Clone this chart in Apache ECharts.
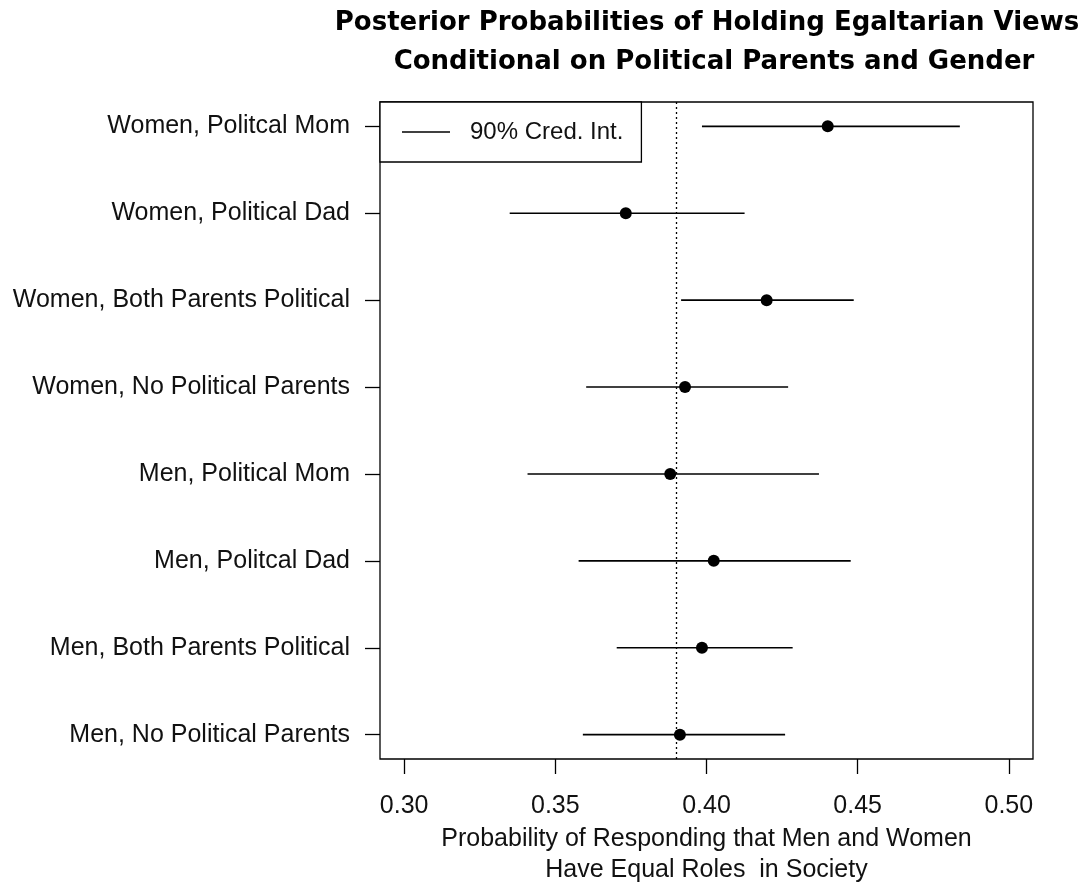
<!DOCTYPE html>
<html>
<head>
<meta charset="utf-8">
<script src="https://cdn.jsdelivr.net/npm/echarts@6/dist/echarts.min.js"></script>
<style>
html,body{margin:0;padding:0;background:#fff;}
#chart{width:1080px;height:886px;}
</style>
</head>
<body>
<div id="chart"></div>
<script>
// Categories listed top to bottom
const categories = [
  "Women, Politcal Mom",
  "Women, Political Dad",
  "Women, Both Parents Political",
  "Women, No Political Parents",
  "Men, Political Mom",
  "Men, Politcal Dad",
  "Men, Both Parents Political",
  "Men, No Political Parents"
];
const lower  = [0.3985, 0.3349, 0.3916, 0.3602, 0.3408, 0.3577, 0.3703, 0.3591];
const median = [0.4401, 0.3733, 0.4199, 0.3929, 0.3880, 0.4024, 0.3985, 0.3912];
const upper  = [0.4838, 0.4126, 0.4487, 0.4270, 0.4372, 0.4477, 0.4285, 0.4260];
const refLine = 0.3912;
const xTicks = [0.30, 0.35, 0.40, 0.45, 0.50];
const legendLabel = "90% Cred. Int.";
const titleLine1 = "Posterior Probabilities of Holding Egaltarian Views";
const titleLine2 = "Conditional on Political Parents and Gender";
const xName = "Probability of Responding that Men and Women\nHave Equal Roles  in Society";

const n = categories.length;
const yPos = categories.map((c, i) => n - i);
const intervalData = categories.map((c, i) => [lower[i], upper[i], yPos[i]]);
const pointData = categories.map((c, i) => [median[i], yPos[i]]);

const FONT = "'Liberation Sans', Arial, sans-serif";
const TFONT = "'DejaVu Sans', 'Liberation Sans', sans-serif";
const chart = echarts.init(document.getElementById('chart'), null, {renderer: 'canvas'});
chart.setOption({
  animation: false,
  backgroundColor: '#fff',
  textStyle: {fontFamily: FONT},
  title: [
    {text: titleLine1, left: 702, top: 5, textAlign: 'center',
     textStyle: {fontFamily: TFONT, fontWeight: 'bold', fontSize: 26, color: '#000'}},
    {text: titleLine2, left: 709, top: 44, textAlign: 'center',
     textStyle: {fontFamily: TFONT, fontWeight: 'bold', fontSize: 26, color: '#000'}}
  ],
  legend: {
    data: [{name: legendLabel, icon: 'rect'}],
    left: 380, top: 102,
    orient: 'vertical',
    itemWidth: 48, itemHeight: 1.5,
    padding: [18, 18, 18, 22],
    backgroundColor: '#fff',
    borderColor: '#000', borderWidth: 1.3, borderRadius: 0,
    selectedMode: false,
    itemStyle: {color: '#000'},
    textStyle: {fontFamily: FONT, fontSize: 24, color: '#111', padding: [0, 0, 0, 15]}
  },
  grid: {
    left: 380, right: 47, top: 102, bottom: 127,
    show: true, borderColor: '#000', borderWidth: 1.3, backgroundColor: 'transparent',
    containLabel: false,
    outerBoundsMode: 'none'
  },
  xAxis: {
    type: 'value', min: 0.292, max: 0.508,
    name: xName, nameLocation: 'middle', nameGap: 64,
    nameTextStyle: {fontFamily: FONT, fontSize: 25, color: '#111', lineHeight: 31},
    axisLine: {show: false},
    axisTick: {show: true, customValues: xTicks, length: 15, lineStyle: {color: '#000', width: 1.3}},
    axisLabel: {show: true, customValues: xTicks, margin: 35, fontSize: 25, color: '#111', fontFamily: FONT,
      formatter: v => Number(v).toFixed(2)},
    splitLine: {show: false}
  },
  yAxis: {
    type: 'value', min: 0.72, max: 8.28,
    axisLine: {show: false},
    axisTick: {show: true, customValues: yPos, length: 15, lineStyle: {color: '#000', width: 1.3}},
    axisLabel: {show: true, customValues: yPos, margin: 30, fontSize: 25, color: '#111', fontFamily: FONT,
      padding: [3, 0, 0, 0],
      formatter: v => categories[n - Math.round(v)]},
    splitLine: {show: false}
  },
  series: [
    {
      name: legendLabel,
      type: 'custom',
      data: intervalData,
      encode: {x: [0, 1], y: 2},
      itemStyle: {color: '#000'},
      renderItem: function (params, api) {
        const p1 = api.coord([api.value(0), api.value(2)]);
        const p2 = api.coord([api.value(1), api.value(2)]);
        return {type: 'line', shape: {x1: p1[0], y1: p1[1], x2: p2[0], y2: p2[1]},
                style: {stroke: '#000', lineWidth: 1.6}};
      },
      z: 2
    },
    {
      name: 'Posterior median',
      type: 'scatter',
      data: pointData,
      symbol: 'circle', symbolSize: 12,
      itemStyle: {color: '#000', opacity: 1},
      z: 3,
      markLine: {
        silent: true, symbol: 'none',
        label: {show: false},
        lineStyle: {color: '#000', type: [2, 3], width: 1.3, opacity: 1},
        data: [{xAxis: refLine}]
      }
    }
  ]
});
</script>
</body>
</html>
